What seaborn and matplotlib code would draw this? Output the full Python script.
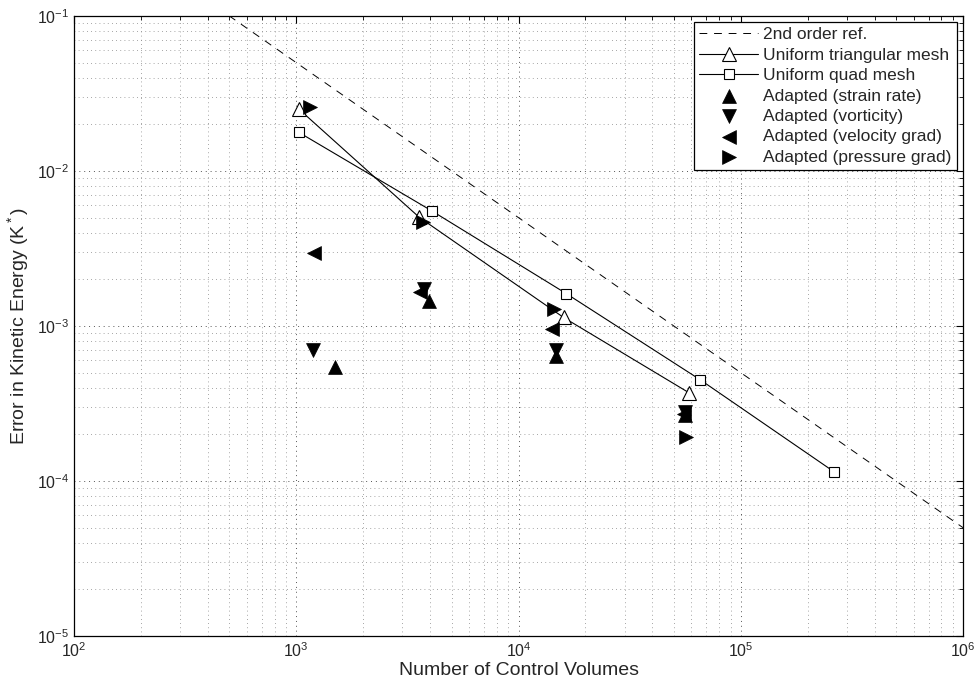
import matplotlib
matplotlib.use("Agg")
import matplotlib.pyplot as plt
import seaborn as sns
import numpy as np
from matplotlib.ticker import LogLocator, NullFormatter

sns.set_style("white")
plt.rcParams['font.family'] = ['Liberation Sans', 'DejaVu Sans']
plt.rcParams['mathtext.fontset'] = 'custom'
plt.rcParams['mathtext.rm'] = 'Liberation Sans'
plt.rcParams['mathtext.it'] = 'Liberation Sans'

# 2nd order reference line endpoints
ref_x = [1e2, 1e6]
ref_y = [0.5, 5e-5]

# Uniform triangular mesh
tri_x = [1030, 3580, 15950, 58300]
tri_y = [0.025, 0.00502, 0.001135, 3.72e-4]

# Uniform quad mesh
quad_x = [1024, 4096, 16384, 65536, 262144]
quad_y = [0.0178, 0.0055, 0.00162, 4.51e-4, 1.15e-4]

# Adapted meshes
strain_x = [1500, 3970, 14700, 56000]
strain_y = [5.4e-4, 1.44e-3, 6.4e-4, 2.65e-4]

vort_x = [1190, 3770, 14700, 56000]
vort_y = [7.05e-4, 1.72e-3, 6.95e-4, 2.8e-4]

velg_x = [1205, 3620, 14200, 55500]
velg_y = [2.94e-3, 1.65e-3, 9.5e-4, 2.7e-4]

presg_x = [1150, 3730, 14400, 56500]
presg_y = [2.58e-2, 4.67e-3, 1.28e-3, 1.93e-4]

fig = plt.figure(figsize=(9.75, 6.83), dpi=100)
ax = fig.add_axes([0.0759, 0.0688, 0.9118, 0.9078])
ax.set_xscale('log')
ax.set_yscale('log')

sns.lineplot(x=ref_x, y=ref_y, ax=ax, color='black', linestyle=(0, (8, 7)),
             linewidth=0.7, label='2nd order ref.', sort=False)
sns.lineplot(x=tri_x, y=tri_y, ax=ax, color='black', linewidth=0.8, marker='^',
             markersize=10, markerfacecolor='white', markeredgecolor='black',
             markeredgewidth=0.8, label='Uniform triangular mesh', sort=False)
sns.lineplot(x=quad_x, y=quad_y, ax=ax, color='black', linewidth=0.8, marker='s',
             markersize=7.5, markerfacecolor='white', markeredgecolor='black',
             markeredgewidth=0.8, label='Uniform quad mesh', sort=False)

for xs, ys, m, lab in [(strain_x, strain_y, '^', 'Adapted (strain rate)'),
                       (vort_x, vort_y, 'v', 'Adapted (vorticity)'),
                       (velg_x, velg_y, '<', 'Adapted (velocity grad)'),
                       (presg_x, presg_y, '>', 'Adapted (pressure grad)')]:
    sns.scatterplot(x=xs, y=ys, ax=ax, marker=m, s=100, color='black',
                    edgecolor='black', linewidth=0.5, label=lab, zorder=3)

ax.set_xlim(1e2, 1e6)
ax.set_ylim(1e-5, 1e-1)

ax.xaxis.set_major_locator(LogLocator(base=10, numticks=10))
ax.xaxis.set_minor_locator(LogLocator(base=10, subs=np.arange(2, 10), numticks=20))
ax.yaxis.set_major_locator(LogLocator(base=10, numticks=10))
ax.yaxis.set_minor_locator(LogLocator(base=10, subs=np.arange(2, 10), numticks=20))
ax.xaxis.set_minor_formatter(NullFormatter())
ax.yaxis.set_minor_formatter(NullFormatter())

ax.grid(True, which='major', linestyle=(0, (1, 4)), color='#555555', linewidth=0.7)
ax.grid(True, which='minor', linestyle=(0, (1, 4)), color='#888888', linewidth=0.6)
ax.set_axisbelow(True)

ax.tick_params(which='both', direction='in', top=True, right=True, color='black')
ax.tick_params(which='major', length=5, width=0.8, labelsize=11.5)
ax.tick_params(which='minor', length=3, width=0.6)
for s in ax.spines.values():
    s.set_color('black')
    s.set_linewidth(0.9)

ax.set_xlabel('Number of Control Volumes', fontsize=14, labelpad=2)
ax.set_ylabel('Error in Kinetic Energy (K$^*$)', fontsize=14, labelpad=4)

leg = ax.legend(loc='upper right', fontsize=12.5, frameon=True, fancybox=False,
                edgecolor='black', framealpha=1, handlelength=3.4,
                borderaxespad=0.35, labelspacing=0.3, handletextpad=0.3,
                borderpad=0.3)
leg.get_frame().set_linewidth(0.9)

fig.savefig('out.png', dpi=100)
